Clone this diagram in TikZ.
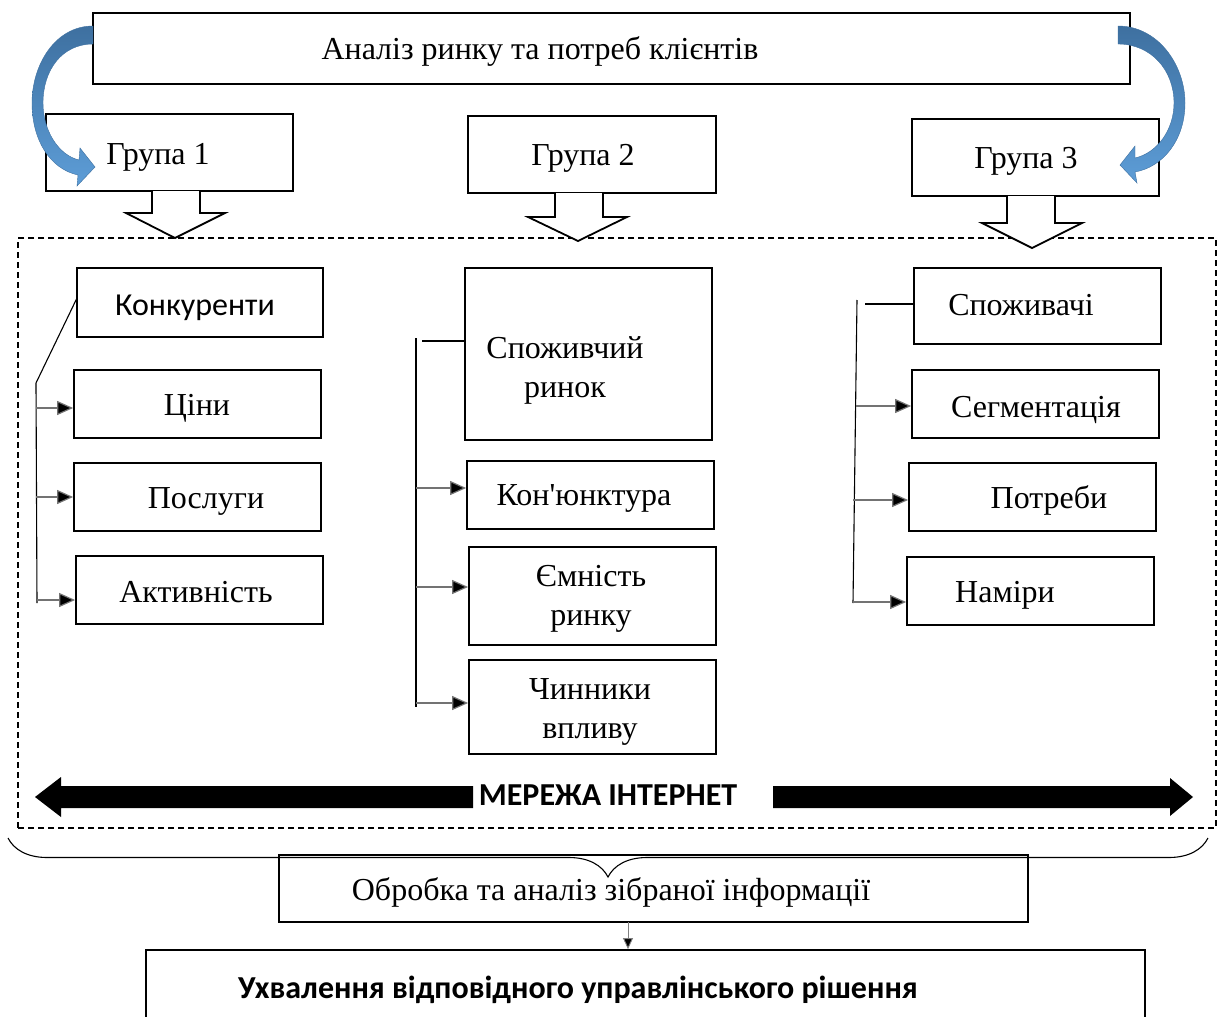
\documentclass[tikz,border=0pt]{standalone}
\usepackage{fontspec}
\setmainfont{Liberation Serif}
\newfontfamily\serifnq{Liberation Serif}
\newfontfamily\calib{Carlito}
\usetikzlibrary{arrows.meta,decorations.pathreplacing}
\definecolor{bluedark}{RGB}{62,112,160}
\definecolor{bluelight}{RGB}{93,157,215}
\begin{document}
\begin{tikzpicture}[x=1pt,y=-1pt,
  box/.style={draw, line width=1.8pt, inner sep=0pt},
  dbox/.style={draw, line width=1.6pt, dash pattern=on 6pt off 4pt, inner sep=0pt},
  txt/.style={font=\fontsize{32}{39}\selectfont, inner sep=0pt, anchor=base, align=center},
  stxt/.style={font=\calib\fontsize{32}{38}\selectfont, inner sep=0pt, anchor=base},
  btxt/.style={font=\calib\bfseries\fontsize{32}{38}\selectfont, inner sep=0pt, anchor=base},
  brk/.style={line width=1.1pt},
  arr/.style={line width=1.2pt, draw=black!55, -{Triangle[length=16pt,width=14pt,fill=black]}},
  hollow/.style={draw, line width=1.8pt, fill=white, line join=miter},
  bluearr/.style={top color=bluedark, bottom color=bluelight, draw=bluedark, line width=0.4pt},
]
\useasboundingbox (0,0) rectangle (1224,1017);
\clip (0,0) rectangle (1224,1017);

% dashed frame
\node[dbox, minimum width=1198, minimum height=590] (net) at (617,533) {};

% top box and groups
\node[box, minimum width=1037, minimum height=71] (top) at (611.5,48.5) {};
\node[txt] (topt) at (540,59) {Аналіз ринку та потреб клієнтів};
\node[box, minimum width=247, minimum height=77] (g1) at (169.5,152.5) {};
\node[txt] (g1t) at (158,164) {Група 1};
\node[box, minimum width=248, minimum height=77] (g2) at (592,154.5) {};
\node[txt] (g2t) at (583,165) {Група 2};
\node[box, minimum width=247, minimum height=77] (g3) at (1035.5,157.5) {};
\node[txt] (g3t) at (1026,168) {Група 3};

% blue curved arrows
\path[bluearr] (93,26) .. controls (55,26) and (32,65) .. (32,103)
  .. controls (32,140) and (50,169) .. (78,175)
  -- (77,186) -- (95,167) -- (80,148) -- (79,160)
  .. controls (58,155) and (43,130) .. (43,103)
  .. controls (43,70) and (62,44) .. (93,44) -- cycle;
\begin{scope}[xshift=1213pt, xscale=-1]
\path[bluearr] (95,26) .. controls (55,26) and (28,65) .. (28,103)
  .. controls (28,140) and (50,167) .. (78,172)
  -- (76,183) -- (93,165) -- (78,146) -- (78,158)
  .. controls (56,153) and (39,130) .. (39,103)
  .. controls (39,70) and (62,44) .. (95,44) -- cycle;
\end{scope}

% hollow block arrows
\draw[hollow] (152,191) -- (152,213) -- (126,213) -- (175,238) -- (225,213) -- (200,213) -- (200,191);
\draw[hollow] (555,193) -- (555,217) -- (528,217) -- (578,241) -- (627,217) -- (603,217) -- (603,193);
\draw[hollow] (1007,196) -- (1007,223) -- (982,223) -- (1032,248) -- (1082,223) -- (1055,223) -- (1055,196);

% column 1
\node[box, minimum width=246, minimum height=69] (k1) at (200,302.5) {};
\node[stxt] (k1t) at (195,315) {Конкуренти};
\node[box, minimum width=247, minimum height=68] (k2) at (197.5,404) {};
\node[txt] (k2t) at (197,415) {Ціни};
\node[box, minimum width=247, minimum height=68] (k3) at (197.5,497) {};
\node[txt] (k3t) at (206,508) {Послуги};
\node[box, minimum width=247, minimum height=68] (k4) at (199.5,590) {};
\node[txt] (k4t) at (196,602) {Активність};
\coordinate (b1s) at (77,298);
\coordinate (b1t) at (36,383);
\coordinate (b1b) at (37,603);
\draw[brk] (b1s) -- (b1t) -- (b1b);
\coordinate (a11) at (36,408);
\coordinate (a12) at (36,497);
\coordinate (a13) at (37,600);
\draw[arr] (a11) -- (a11 -| k2.west);
\draw[arr] (a12) -- (a12 -| k3.west);
\draw[arr] (a13) -- (a13 -| k4.west);

% column 2
\node[box, minimum width=247, minimum height=172] (c1) at (588.5,354) {};
\node[txt] (c1t) at (565,397) {Споживчий\\ринок};
\node[box, minimum width=247, minimum height=68] (c2) at (590.5,495) {};
\node[txt, font=\serifnq\fontsize{32}{39}\selectfont] (c2t) at (584,505) {Кон'юнктура};
\node[box, minimum width=247, minimum height=98] (c3) at (592.5,596) {};
\node[txt] (c3t) at (591,625) {Ємність\\ринку};
\node[box, minimum width=247, minimum height=94] (c4) at (592.5,707) {};
\node[txt] (c4t) at (590,738) {Чинники\\впливу};
\coordinate (b2h) at (422,341);
\coordinate (b2t) at (416,338);
\coordinate (b2b) at (416,707);
\draw[brk] (b2h) -- (b2h -| c1.west);
\draw[brk] (b2t) -- (b2b);
\coordinate (a21) at (416,488);
\coordinate (a22) at (416,587);
\coordinate (a23) at (416,703);
\draw[arr] (a21) -- (a21 -| c2.west);
\draw[arr] (a22) -- (a22 -| c3.west);
\draw[arr] (a23) -- (a23 -| c4.west);

% column 3
\node[box, minimum width=247, minimum height=76] (s1) at (1037.5,306) {};
\node[txt] (s1t) at (1021,315) {Споживачі};
\node[box, minimum width=247, minimum height=68] (s2) at (1035.5,404) {};
\node[txt] (s2t) at (1036,417) {Сегментація};
\node[box, minimum width=247, minimum height=68] (s3) at (1032.5,497) {};
\node[txt] (s3t) at (1049,508) {Потреби};
\node[box, minimum width=247, minimum height=68] (s4) at (1030.5,591) {};
\node[txt] (s4t) at (1005,602) {Наміри};
\coordinate (b3h) at (865,304);
\coordinate (b3t) at (857,300);
\coordinate (b3b) at (853,603);
\draw[brk] (b3h) -- (b3h -| s1.west);
\draw[brk] (b3t) -- (b3b);
\coordinate (a31) at (856,406);
\coordinate (a32) at (853,500);
\coordinate (a33) at (853,602);
\draw[arr] (a31) -- (a31 -| s2.west);
\draw[arr] (a32) -- (a32 -| s3.west);
\draw[arr] (a33) -- (a33 -| s4.west);

% internet
\fill (473,786) -- (61,786) -- (61,777) -- (35,797) -- (61,817) -- (61,808) -- (473,808) -- cycle;
\fill (773,786) -- (1170,786) -- (1170,778) -- (1193,797) -- (1170,816) -- (1170,808) -- (773,808) -- cycle;
\node[btxt] (nett) at (608,805) {МЕРЕЖА ІНТЕРНЕТ};

% brace
\draw[line width=1.1pt, decorate, decoration={brace, mirror, amplitude=39pt}] (8,838) -- (1208,838);

% processing and decision
\node[box, minimum width=749, minimum height=67] (proc) at (653.5,888.5) {};
\node[txt] (proct) at (611,900) {Обробка та аналіз зібраної інформації};
\node[box, minimum width=999, minimum height=120] (dec) at (645.5,1010) {};
\node[btxt] (dect) at (578,998) {Ухвалення відповідного управлінського рішення};
\coordinate (pa) at (628,922);
\draw[line width=0.9pt, draw=black!50, -{Triangle[length=11pt,width=10pt,fill=black]}] (pa) -- (pa |- dec.north);
\end{tikzpicture}
\end{document}
